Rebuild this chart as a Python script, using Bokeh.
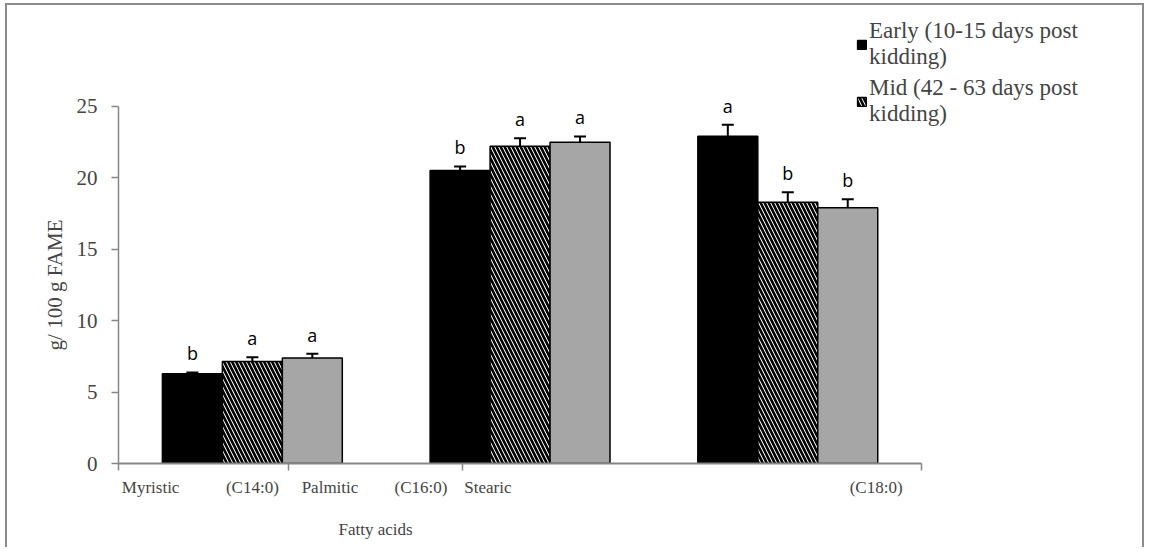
from bokeh.plotting import figure
from bokeh.models import (Range1d, FixedTicker, ColumnDataSource, Whisker, TeeHead,
                          LabelSet, Legend, LegendItem, LinearAxis)
from bokeh.core.properties import value
from bokeh.embed import file_html
from bokeh.resources import INLINE

# ---- data ----
acids = ["Myristic", "Palmitic", "Stearic"]
codes = ["(C14:0)", "(C16:0)", "(C18:0)"]
series = ["Early (10-15 days post\nkidding)", "Mid (42 - 63 days post\nkidding)", "Late"]
early = [6.28, 20.52, 22.92]
early_err = [0.10, 0.28, 0.80]
mid = [7.14, 22.22, 18.30]
mid_err = [0.30, 0.55, 0.70]
late = [7.38, 22.50, 17.90]
late_err = [0.30, 0.40, 0.60]
early_sig = ["b", "b", "a"]
mid_sig = ["a", "a", "b"]
late_sig = ["a", "a", "b"]
y_ticks = [0, 5, 10, 15, 20, 25]
x_title = "Fatty acids"
y_title = "g/ 100 g FAME"

# ---- layout constants ----
BW = 0.224
offsets = [-BW, 0.0, BW]
xaxis_ticks = [0, 0.634, 1.284, 3]
name_pos = [0.12, 0.79, 1.38]
code_pos = [0.50, 1.13, 2.83]
xtitle_pos = 0.96

SERIF = "Liberation Serif"
SANS = "Open Sans"
AXIS_GREY = "#868686"

p = figure(width=1139, height=544, output_backend="svg", toolbar_location=None,
           x_range=Range1d(0, 3.825), y_range=Range1d(0, 31.79),
           min_border_left=111, min_border_right=4, min_border_top=4, min_border_bottom=86)
p.outline_line_color = None
p.xgrid.visible = False
p.ygrid.visible = False
p.styles = {"border-top": "2px solid #8c8c8c", "border-left": "2px solid #8c8c8c",
            "border-right": "2px solid #8c8c8c", "margin-left": "5px", "margin-top": "3px"}

styles = [
    dict(fill_color="black", line_color="black"),
    dict(fill_color="white", line_color="black", hatch_pattern="\\", hatch_color="black",
         hatch_scale=8, hatch_weight=2.6),
    dict(fill_color="#a6a6a6", line_color="black"),
]

vals = [early, mid, late]
errs = [early_err, mid_err, late_err]
sigs = [early_sig, mid_sig, late_sig]
renderers = []
for k in range(3):
    xs = [i + 0.5 + offsets[k] for i in range(len(acids))]
    src = ColumnDataSource(dict(x=xs, top=vals[k],
                                upper=[v + e for v, e in zip(vals[k], errs[k])],
                                lower=[v - e for v, e in zip(vals[k], errs[k])],
                                sig=sigs[k]))
    r = p.vbar(x="x", top="top", width=BW, bottom=0, line_width=1.5, source=src, **styles[k])
    renderers.append(r)
    w = Whisker(base="x", upper="upper", lower="lower", source=src, line_width=2, line_color="black",
                upper_head=TeeHead(size=12, line_width=2, line_color="black"),
                lower_head=TeeHead(size=12, line_width=2, line_color="black"))
    p.add_layout(w)
    p.add_layout(LabelSet(x="x", y="upper", text="sig", source=src, y_offset=7,
                          text_align="center", text_baseline="bottom",
                          text_font=value(SANS), text_font_size=value("18px"),
                          text_color=value("black")))

# y axis
p.yaxis.ticker = FixedTicker(ticks=y_ticks)
p.yaxis.bounds = (0, 25)
p.yaxis.major_label_text_font = SERIF
p.yaxis.major_label_text_font_size = "21px"
p.yaxis.major_label_standoff = 14
p.yaxis.axis_line_color = AXIS_GREY
p.yaxis.axis_line_width = 1.5
p.yaxis.major_tick_line_color = AXIS_GREY
p.yaxis.major_tick_line_width = 1.5
p.yaxis.major_tick_out = 7
p.yaxis.major_tick_in = 0
p.yaxis.minor_tick_line_color = None

# y title as a second axis
ytitle_axis = LinearAxis(ticker=FixedTicker(ticks=[12.5]), major_label_overrides={12.5: y_title},
                         major_label_orientation="vertical", major_label_text_font=SERIF,
                         major_label_text_font_size="21px", major_label_standoff=0,
                         axis_line_color=None, major_tick_line_color=None,
                         minor_tick_line_color=None)
p.add_layout(ytitle_axis, "left")

# x axis (line + ticks)
p.xaxis.ticker = FixedTicker(ticks=xaxis_ticks)
p.xaxis.bounds = (0, 3)
p.xaxis.major_label_overrides = {t: "" for t in xaxis_ticks}
p.xaxis.major_label_text_font_size = "1px"
p.xaxis.major_label_standoff = 0
p.xaxis.axis_line_color = AXIS_GREY
p.xaxis.axis_line_width = 2
p.xaxis.major_tick_line_color = AXIS_GREY
p.xaxis.major_tick_line_width = 1.5
p.xaxis.major_tick_out = 7
p.xaxis.major_tick_in = 0
p.xaxis.minor_tick_line_color = None

# category labels
cat_ticks = name_pos + code_pos
cat_axis = LinearAxis(ticker=FixedTicker(ticks=cat_ticks),
                      major_label_overrides={t: s for t, s in zip(cat_ticks, acids + codes)},
                      major_label_text_font=SERIF, major_label_text_font_size="17px",
                      major_label_standoff=1, axis_line_color=None,
                      major_tick_line_color=None, minor_tick_line_color=None)
p.add_layout(cat_axis, "below")

xtitle_axis = LinearAxis(ticker=FixedTicker(ticks=[xtitle_pos]),
                         major_label_overrides={xtitle_pos: x_title},
                         major_label_text_font=SERIF, major_label_text_font_size="17px",
                         major_label_standoff=14, axis_line_color=None,
                         major_tick_line_color=None, minor_tick_line_color=None)
p.add_layout(xtitle_axis, "below")

legend = Legend(items=[LegendItem(label=series[0], renderers=[renderers[0]]),
                       LegendItem(label=series[1], renderers=[renderers[1]])],
                location=(738, 336), orientation="vertical",
                glyph_width=11, glyph_height=11, label_standoff=2,
                label_text_font=SERIF, label_text_font_size="23px",
                label_text_line_height=0.87,
                spacing=5, padding=0, margin=0,
                border_line_color=None, background_fill_alpha=0)
p.add_layout(legend, "center")

open("out.html", "w").write(file_html(p, INLINE))
